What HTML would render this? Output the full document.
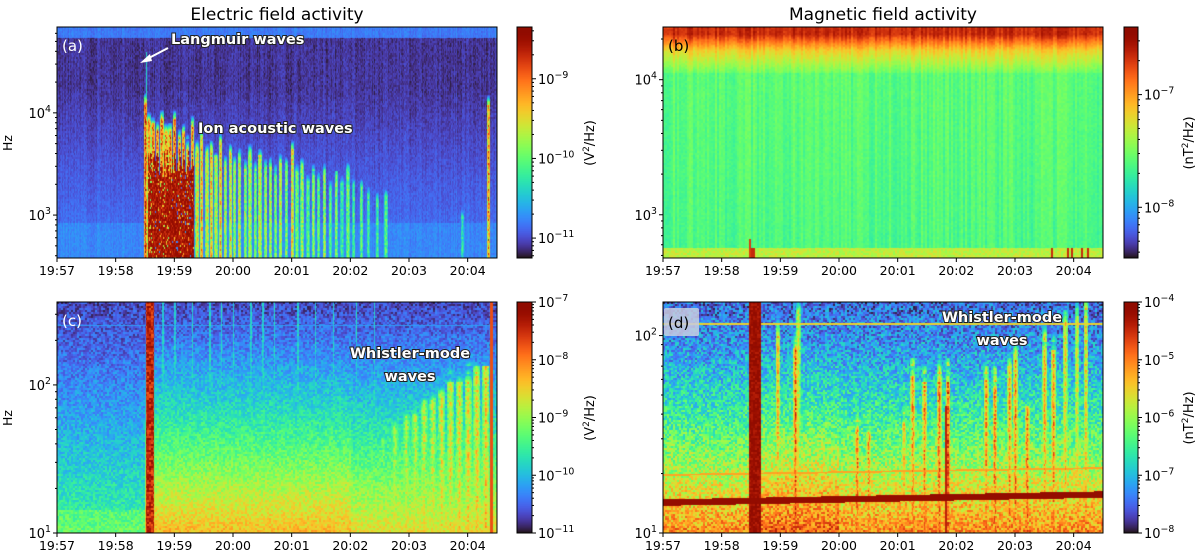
<!DOCTYPE html>
<html><head><meta charset="utf-8">
<style>
body{margin:0;background:#fff;width:1200px;height:559px;overflow:hidden;position:relative;font-family:"DejaVu Sans","Liberation Sans",sans-serif}
canvas{position:absolute;display:block}
svg{position:absolute;left:0;top:0}
</style></head>
<body>
<canvas id="ca" width="440" height="231" style="left:57px;top:27px"></canvas>
<canvas id="cb" width="440" height="231" style="left:663px;top:27px"></canvas>
<canvas id="cc" width="440" height="231" style="left:57px;top:302px"></canvas>
<canvas id="cd" width="440" height="231" style="left:663px;top:302px"></canvas>
<canvas id="cbl1" width="15" height="231" style="left:517px;top:27px"></canvas>
<canvas id="cbl2" width="14" height="231" style="left:1124px;top:27px"></canvas>
<canvas id="cbl3" width="15" height="231" style="left:517px;top:302px"></canvas>
<canvas id="cbl4" width="14" height="231" style="left:1124px;top:302px"></canvas>
<svg id="ov" width="1200" height="559"></svg>
<script>
// ---- data ----
const xTickLabels = ['19:57','19:58','19:59','20:00','20:01','20:02','20:03','20:04'];
const xTickMinutes = [0,1,2,3,4,5,6,7];
// panel (a) ion acoustic bursts: minute offset, top log10(Hz), intensity
const burstsA_t   = [1.5,1.56,1.63,1.7,1.78,1.85,1.92,2.0,2.08,2.15,2.22,2.3,2.38,2.46,2.55,2.62,2.7,2.78,2.86,2.95,3.02,3.1,3.2,3.28,3.37,3.45,3.55,3.63,3.72,3.8,3.9,4.0,4.08,4.17,4.27,4.36,4.45,4.55,4.65,4.75,4.85,4.95,5.05,5.18,5.3,5.45,5.6,6.9,7.35];
const burstsA_top = [4.1,3.95,3.9,3.85,3.95,3.75,3.8,3.9,3.7,3.8,3.65,3.9,3.6,3.7,3.6,3.65,3.55,3.75,3.5,3.6,3.5,3.55,3.45,3.6,3.4,3.55,3.45,3.5,3.4,3.5,3.45,3.6,3.4,3.45,3.3,3.4,3.35,3.45,3.3,3.35,3.3,3.4,3.25,3.3,3.2,3.1,3.15,3.0,4.1];
const burstsA_amp = [0.95,0.9,0.92,0.97,0.95,0.9,0.95,0.92,0.85,0.9,0.8,0.85,0.75,0.8,0.7,0.78,0.65,0.75,0.62,0.7,0.6,0.68,0.6,0.65,0.55,0.7,0.6,0.62,0.55,0.65,0.55,0.75,0.55,0.6,0.5,0.58,0.5,0.6,0.48,0.55,0.45,0.55,0.45,0.5,0.45,0.45,0.5,0.4,0.85];
// panel (c) whistler bursts
const burstsC_t   = [5.55,5.75,5.95,6.1,6.25,6.4,6.55,6.7,6.85,7.0,7.15,7.3];
const burstsC_top = [1.6,1.7,1.75,1.8,1.85,1.9,1.95,2.0,2.02,2.05,2.08,2.1];
const burstsC_amp = [0.5,0.55,0.58,0.6,0.62,0.62,0.65,0.65,0.66,0.68,0.68,0.7];
const linesC_t = [1.8,2.0,2.3,2.6,2.8,3.0,3.3,3.5,3.7,4.1,4.4,4.7,5.1,5.4];
// panel (d) whistler bursts (top as log10 Hz)
const burstsD_t   = [1.95,2.25,2.3,3.3,3.5,4.1,4.25,4.45,4.7,4.85,5.5,5.65,5.9,6.0,6.2,6.5,6.65,6.85,7.05,7.2];
const burstsD_top = [2.0,1.95,2.15,1.55,1.5,1.55,1.8,1.75,1.8,1.78,1.78,1.75,1.8,1.85,1.6,1.95,1.9,2.07,2.12,2.1];
const burstsD_amp = [0.75,0.85,0.62,0.85,0.8,0.72,0.8,0.8,0.85,0.9,0.8,0.85,0.8,0.8,0.85,0.75,0.8,0.7,0.65,0.7];

// ---- helpers ----
function turbo(t){t=Math.max(0,Math.min(1,t));
const r=0.13572138+t*(4.61539260+t*(-42.66032258+t*(132.13108234+t*(-152.94239396+t*59.28637943))));
const g=0.09140261+t*(2.19418839+t*(4.84296658+t*(-14.18503333+t*(4.27729857+t*2.82956604))));
const b=0.10667330+t*(12.64194608+t*(-60.58204836+t*(110.36276771+t*(-89.90310912+t*27.34824973))));
return [Math.max(0,Math.min(255,r*255)),Math.max(0,Math.min(255,g*255)),Math.max(0,Math.min(255,b*255))];}
function hash(a,b){let h=(a*374761393+b*668265263)|0;h=(h^(h>>>13))*1274126177|0;return ((h^(h>>>16))>>>0)/4294967296;}
function burst(m,L,t0,top,amp,w,rough){const d=Math.abs(m-t0);if(d>w)return 0;let v=amp*(1-0.35*d/w);const tp=top+(rough||0);if(L>tp)v*=Math.max(0,1-(L-tp)/0.12);return v;}
const W=440,H=231,MIN=7.5;
function render(id,Lbot,Ltop,fn,bx,by){
 const c=document.getElementById(id),ctx=c.getContext('2d'),img=ctx.createImageData(W,H);
 for(let y=0;y<H;y++){const fy=y/(H-1),L=Ltop-(Ltop-Lbot)*fy;
  for(let x=0;x<W;x++){const m=x/W*MIN;const t=fn(m,L,fy,Math.floor(x/bx),Math.floor(y/by));
   const col=turbo(t),i=(y*W+x)*4;img.data[i]=col[0];img.data[i+1]=col[1];img.data[i+2]=col[2];img.data[i+3]=255;}}
 ctx.putImageData(img,0,0);}
// ---- panel a ----
render('ca',2.58,4.84,(m,L,fy,ix,iy)=>{
 let v; if(L>4.74)v=0.15;else if(L>4.25)v=0.05;else v=0.05+(4.25-L)*0.06; if(L<2.92)v=0.17;
 v+= (hash(ix,iy)-0.5)*0.05 + (hash(ix,999)-0.5)*0.04;
 for(let k=0;k<burstsA_t.length;k++){const b=burst(m,L,burstsA_t[k],burstsA_top[k],burstsA_amp[k],0.028,(hash(k,iy>>3)-0.5)*0.1)*(0.7+0.4*hash(ix,iy*3+k));if(b>v)v=b;}
 const edge=3.5+(hash(ix,77)-0.5)*0.3;
 if(m>1.55&&m<2.32&&L<edge&&hash(ix,iy+500)>0.12)v=Math.max(v,0.86+0.14*hash(ix,iy));
 if(m>1.5&&m<1.53&&L<4.6&&L>3.7)v=Math.max(v,0.3);
 return v;},1,2);
// ---- panel b ----
render('cb',2.68,4.39,(m,L,fy,ix,iy)=>{
 let v; if(fy<0.03)v=0.88;else if(fy<0.1)v=0.88-(fy-0.03)*3.5;else if(fy<0.2)v=0.63-(fy-0.1)*1.8;else v=0.43-0.03*fy;
 v+=(hash(ix,5)-0.5)*0.08+(hash(ix,iy)-0.5)*0.04;
 if(fy>0.96){v=0.55+(hash(ix,iy)-0.5)*0.1; if((m>1.45&&m<1.56)||(m>6.6&&m<7.25&&hash(ix,1)>0.55))v=0.88;}
 if(m>1.45&&m<1.5&&fy>0.92)v=0.85;
 return v;},2,2);
// ---- panel c ----
render('cc',1,2.56,(m,L,fy,ix,iy)=>{
 const a=m<1.5?0.3:(m<5?0.58:0.52);
 let v=0.08+a*Math.pow(fy,1.2)+(hash(ix,iy)-0.5)*0.14;
 if(m<1.5&&fy>0.9)v+=0.06;
 for(let k=0;k<burstsC_t.length;k++){const b=burst(m,L,burstsC_t[k],burstsC_top[k],burstsC_amp[k],0.06,(hash(k,iy>>2)-0.5)*0.08)*(0.75+0.35*hash(ix,iy+k));if(b>v)v=b;}
 for(let k=0;k<linesC_t.length;k++){if(Math.abs(m-linesC_t[k])<0.012)v=Math.max(v,0.22+0.12*hash(ix,iy));}
 if(m>1.5&&m<1.64)v=Math.max(v,0.8+0.18*hash(ix,iy));
 if(Math.abs(m-7.4)<0.02)v=Math.max(v,0.82);
 if(Math.abs(fy-0.1)<0.004)v=Math.max(v,0.2);
 return v;},2,2);
// ---- panel d ----
render('cd',1,2.17,(m,L,fy,ix,iy)=>{
 let v=0.13+0.6*Math.pow(fy,1.35)+(hash(ix,iy)-0.5)*0.25;
 if(m>1.5&&m<3)v+=0.06*fy;
 for(let k=0;k<burstsD_t.length;k++){const b=burst(m,L,burstsD_t[k],burstsD_top[k],burstsD_amp[k],0.04,(hash(k,iy>>2)-0.5)*0.08)*(0.75+0.35*hash(ix,iy+k*7));if(b>v)v=b;}
 const ly=0.87-0.035*m/MIN; if(Math.abs(fy-ly)<0.014)v=0.97;
 if(Math.abs(fy-(0.75-0.03*m/MIN))<0.004)v=Math.max(v,0.7);
 if(Math.abs(fy-0.095)<0.004)v=Math.max(v,0.62);
 if(m>1.45&&m<1.66)v=Math.max(v,0.9+0.1*hash(ix,iy));
 if(Math.abs(m-4.82)<0.02&&fy>0.45)v=Math.max(v,0.9);
 return v;},2,2);
// colorbars
['cbl1','cbl2','cbl3','cbl4'].forEach(id=>{const c=document.getElementById(id),ctx=c.getContext('2d');
 for(let y=0;y<231;y++){const col=turbo(1-y/230);ctx.fillStyle=`rgb(${col[0]|0},${col[1]|0},${col[2]|0})`;ctx.fillRect(0,y,c.width,1);}});

// ---- overlay ----
const NS='http://www.w3.org/2000/svg',ov=document.getElementById('ov');
function el(tag,attrs,txt){const e=document.createElementNS(NS,tag);for(const k in attrs)e.setAttribute(k,attrs[k]);if(txt!==undefined)e.textContent=txt;ov.appendChild(e);return e;}
function pow10(x,y,exp,anchor,size){const t=el('text',{x:x,y:y,'text-anchor':anchor,'font-size':size,fill:'#000'});
 const a=document.createElementNS(NS,'tspan');a.textContent='10';t.appendChild(a);
 const b=document.createElementNS(NS,'tspan');b.setAttribute('dy',-6);b.setAttribute('font-size',size*0.72);b.textContent=exp;t.appendChild(b);return t;}
const panels=[
 {x:57,y:27,yl:2.58,yh:4.84,dec:[3,4],cx:517,cw:15,cl:-11.25,ch:-8.35,cdec:[-11,-10,-9]},
 {x:663,y:27,yl:2.68,yh:4.39,dec:[3,4],cx:1124,cw:14,cl:-8.45,ch:-6.4,cdec:[-8,-7]},
 {x:57,y:302,yl:1,yh:2.56,dec:[1,2],cx:517,cw:15,cl:-11,ch:-7,cdec:[-11,-10,-9,-8,-7]},
 {x:663,y:302,yl:1,yh:2.17,dec:[1,2],cx:1124,cw:14,cl:-8,ch:-4,cdec:[-8,-7,-6,-5,-4]}];
panels.forEach((p,pi)=>{
 const frame=el('rect',{x:p.x,y:p.y,width:440,height:231,fill:'none',stroke:'#000','stroke-width':1});
 
 
 el('rect',{x:p.cx,y:p.y,width:p.cw,height:231,fill:'none',stroke:'#000','stroke-width':1});
 const xs=m=>p.x+m/7.5*440;
 xTickMinutes.forEach((m,i)=>{const X=xs(m);el('line',{x1:X,x2:X,y1:p.y+231,y2:p.y+235,stroke:'#000'});
  const t=el('text',{x:X,y:p.y+248,'text-anchor':'middle','font-size':12.5},xTickLabels[i]);
  
  });
 const ys=L=>p.y+231-(L-p.yl)/(p.yh-p.yl)*231;
 for(let d=Math.floor(p.yl);d<=Math.ceil(p.yh);d++){for(let k=1;k<10;k++){const L=d+Math.log10(k);if(L<p.yl||L>p.yh)continue;const Y=ys(L);
   el('line',{x1:p.x-(k==1?4:2),x2:p.x,y1:Y,y2:Y,stroke:'#000'});}}
 p.dec.forEach(d=>{if(d<p.yl-0.01||d>p.yh)return;pow10(p.x-6,ys(d)+5,d,'end',13);});
 const cs=L=>p.y+231-(L-p.cl)/(p.ch-p.cl)*231;
 for(let d=Math.floor(p.cl);d<=Math.ceil(p.ch);d++){for(let k=1;k<10;k++){const L=d+Math.log10(k);if(L<p.cl-0.001||L>p.ch+0.001)continue;const Y=cs(L);
   el('line',{x1:p.cx+p.cw,x2:p.cx+p.cw+(k==1?4:2),y1:Y,y2:Y,stroke:'#000'});}}
 p.cdec.forEach(d=>pow10(p.cx+p.cw+6,cs(d)+5,'\u2212'+Math.abs(d),'start',13));
});
[[12,143],[12,418]].forEach(a=>{const t=el('text',{x:a[0],y:a[1],'font-size':12.5,'text-anchor':'middle',transform:`rotate(-90 ${a[0]} ${a[1]})`},'Hz');});
[[594,143,'V'],[594,418,'V'],[1193,143,'nT'],[1193,418,'nT']].forEach(a=>{
 const t=el('text',{x:a[0],y:a[1],'font-size':13,'text-anchor':'middle',transform:`rotate(-90 ${a[0]} ${a[1]})`});
 
 t.innerHTML=`(${a[2]}<tspan dy="-5" font-size="9">2</tspan><tspan dy="5">/Hz)</tspan>`;});
el('text',{x:277,y:20,'font-size':17,'text-anchor':'middle'},'Electric field activity');
el('text',{x:883,y:20,'font-size':17,'text-anchor':'middle'},'Magnetic field activity');
function wtxt(x,y,s,name,anchor){const t=el('text',{x:x,y:y,'font-size':14.5,'font-weight':'bold',fill:'#fff',stroke:'#222','stroke-width':2,'paint-order':'stroke','text-anchor':anchor||'start'},s);
 return t;}
wtxt(171,44,'Langmuir waves','annotation-langmuir');
el('line',{x1:168,y1:48,x2:147,y2:59,stroke:'#fff','stroke-width':2});
el('polygon',{points:'140,63 150,54 152,61',fill:'#fff'});
wtxt(198,133,'Ion acoustic waves','annotation-ion-acoustic');
wtxt(410,358,'Whistler-mode','annotation-whistler-c','middle');wtxt(410,381,'waves','annotation-whistler-c2','middle');
wtxt(1002,322,'Whistler-mode','annotation-whistler-d','middle');wtxt(1002,345,'waves','annotation-whistler-d2','middle');
el('text',{x:62,y:51,'font-size':15,fill:'#fff'},'(a)');
el('text',{x:668,y:51,'font-size':15,fill:'#000'},'(b)');
el('text',{x:62,y:326,'font-size':15,fill:'#fff'},'(c)');
el('rect',{x:664,y:308,width:35,height:28,fill:'#c8cce0',opacity:0.85,rx:2});
el('text',{x:668,y:328,'font-size':15,fill:'#000'},'(d)');
</script>
</body></html>
